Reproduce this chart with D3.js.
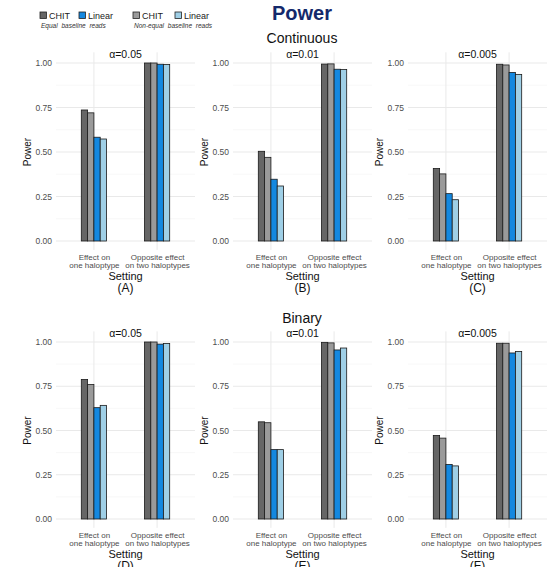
<!DOCTYPE html>
<html>
<head>
<meta charset="utf-8" />
<title>Power</title>
<script src="https://cdn.jsdelivr.net/npm/d3@7"></script>
<style>
    body { margin: 0; padding: 0; background: #fff; }
    text { font-family: "Liberation Sans", Arial, sans-serif; }
</style>
</head>
<body>
<div id="chart"></div>
<script>
    // settings on the x axis, one group of four bars each
    var settings = ["Effect on|one haloptype", "Opposite effect|on two haloptypes"];
    var seriesNames = ["CHIT equal", "CHIT non-equal", "Linear equal", "Linear non-equal"];
    var seriesColors = ["#666666", "#9a9a9a", "#1488e0", "#9fcfe6"];

    var panelTags = ["(A)", "(B)", "(C)", "(D)", "(E)", "(F)"];
    var alphaLabels = ["α=0.05", "α=0.01", "α=0.005", "α=0.05", "α=0.01", "α=0.005"];
    var rowTitles = ["Continuous", "Binary"];
    var yTicks = [0, 0.25, 0.5, 0.75, 1];

    // power per panel, [setting 1, setting 2]
    var chitEqual = [[0.736, 1.0], [0.504, 0.994], [0.407, 0.993], [0.788, 1.0], [0.549, 0.998], [0.472, 0.993]];
    var chitNonEqual = [[0.72, 1.0], [0.47, 0.995], [0.377, 0.989], [0.76, 1.0], [0.544, 0.995], [0.457, 0.993]];
    var linearEqual = [[0.583, 0.993], [0.347, 0.965], [0.266, 0.947], [0.629, 0.988], [0.392, 0.955], [0.308, 0.938]];
    var linearNonEqual = [[0.573, 0.992], [0.309, 0.963], [0.232, 0.936], [0.642, 0.992], [0.392, 0.966], [0.30, 0.946]];

    var allSeries = [chitEqual, chitNonEqual, linearEqual, linearNonEqual];

    var W = 554, H = 567;
    var colLeft = [56, 233, 408], panelW = 139;
    var rowZero = [241, 519], rowOne = [63, 342];

    var svg = d3.select("#chart").append("svg")
        .attr("width", W).attr("height", H);
    svg.append("rect").attr("width", W).attr("height", H).attr("fill", "#fff");

    // main title and legend
    svg.append("text").attr("x", 302).attr("y", 20).attr("text-anchor", "middle")
        .attr("font-size", 20).attr("font-weight", "bold").attr("fill", "#14296b").text("Power");

    var legendItems = [
        { x: 40, label: "CHIT", color: seriesColors[0] },
        { x: 79, label: "Linear", color: seriesColors[2] },
        { x: 133, label: "CHIT", color: seriesColors[1] },
        { x: 175, label: "Linear", color: seriesColors[3] }
    ];
    legendItems.forEach(function (d) {
        svg.append("rect").attr("x", d.x).attr("y", 12).attr("width", 6.5).attr("height", 6.5)
            .attr("fill", d.color).attr("stroke", "#222").attr("stroke-width", 0.8);
        svg.append("text").attr("x", d.x + 9).attr("y", 18.5).attr("font-size", 9)
            .attr("fill", "#222").text(d.label);
    });
    svg.append("text").attr("x", 41).attr("y", 28).attr("font-size", 6.5).attr("font-style", "italic")
        .attr("fill", "#333").attr("word-spacing", 2).text("Equal baseline reads");
    svg.append("text").attr("x", 134).attr("y", 28).attr("font-size", 6.5).attr("font-style", "italic")
        .attr("fill", "#333").attr("word-spacing", 2).text("Non-equal baseline reads");

    rowTitles.forEach(function (t, r) {
        svg.append("text").attr("x", 302).attr("y", rowOne[r] - 20 + (r == 0 ? 0 : 1))
            .attr("text-anchor", "middle").attr("font-size", 14).attr("fill", "#111").text(t);
    });

    d3.range(6).forEach(function (p) {
        var row = Math.floor(p / 3), col = p % 3;
        var left = colLeft[col];
        var y = d3.scaleLinear().domain([0, 1]).range([rowZero[row], rowOne[row]]);
        var x = d3.scalePoint().domain(settings).range([left, left + panelW]).padding(0.6);
        var xs = d3.scaleBand().domain(seriesNames).range([-12.6, 12.6]);
        var top = y(1.06), bottom = y(-0.05);

        var g = svg.append("g");

        // minor grid
        g.selectAll(".minor").data([0.125, 0.375, 0.625, 0.875]).enter().append("line")
            .attr("x1", left).attr("x2", left + panelW)
            .attr("y1", function (d) { return y(d); }).attr("y2", function (d) { return y(d); })
            .attr("stroke", "#f3f3f3").attr("stroke-width", 0.6);
        // major grid
        g.selectAll(".major").data(yTicks).enter().append("line")
            .attr("x1", left).attr("x2", left + panelW)
            .attr("y1", function (d) { return y(d); }).attr("y2", function (d) { return y(d); })
            .attr("stroke", "#e9e9e9").attr("stroke-width", 1);
        g.selectAll(".vgrid").data(settings).enter().append("line")
            .attr("x1", function (d) { return x(d); }).attr("x2", function (d) { return x(d); })
            .attr("y1", top).attr("y2", bottom)
            .attr("stroke", "#e9e9e9").attr("stroke-width", 1);

        // bars
        seriesNames.forEach(function (s, si) {
            g.selectAll(".bar" + si).data(settings).enter().append("rect")
                .attr("x", function (d) { return x(d) + xs(s); })
                .attr("width", xs.bandwidth())
                .attr("y", function (d, i) { return y(allSeries[si][p][i]); })
                .attr("height", function (d, i) { return y(0) - y(allSeries[si][p][i]); })
                .attr("fill", seriesColors[si])
                .attr("stroke", "#1a1a1a").attr("stroke-width", 0.8);
        });

        // y axis
        var ya = g.append("g").attr("transform", "translate(" + left + ",0)")
            .call(d3.axisLeft(y).tickValues(yTicks).tickFormat(d3.format(".2f")).tickSize(0).tickPadding(4));
        ya.select(".domain").remove();
        ya.selectAll("text").attr("font-size", 8.5).attr("fill", "#4d4d4d")
            .attr("font-family", "Liberation Sans, Arial, sans-serif");

        // x axis with two-line labels
        var xa = g.append("g").attr("transform", "translate(0," + rowZero[row] + ")")
            .call(d3.axisBottom(x).tickSize(0).tickPadding(0));
        xa.select(".domain").remove();
        xa.selectAll("text").each(function (d) {
            var t = d3.select(this).text("").attr("y", 0).attr("dy", null)
                .attr("font-size", 8).attr("fill", "#4d4d4d")
                .attr("font-family", "Liberation Sans, Arial, sans-serif");
            d.split("|").forEach(function (line, li) {
                t.append("tspan").attr("x", 0).attr("y", 18.5 + li * 8.5).text(line);
            });
        });

        var cx = left + panelW / 2;
        g.append("text").attr("x", cx).attr("y", rowZero[row] + 39).attr("text-anchor", "middle")
            .attr("font-size", 11).attr("fill", "#111").text("Setting");
        g.append("text").attr("x", cx).attr("y", rowZero[row] + 51).attr("text-anchor", "middle")
            .attr("font-size", 12).attr("fill", "#111").text(panelTags[p]);
        g.append("text").attr("transform", "translate(" + (left - 25) + "," + ((rowZero[row] + rowOne[row]) / 2) + ") rotate(-90)")
            .attr("text-anchor", "middle").attr("font-size", 10).attr("fill", "#111").text("Power");

        // alpha label over the panel
        g.append("rect").attr("x", cx - 22).attr("y", rowOne[row] - 14).attr("width", 44).attr("height", 11).attr("fill", "#fff");
        g.append("text").attr("x", cx).attr("y", rowOne[row] - 5).attr("text-anchor", "middle")
            .attr("font-size", 10.5).attr("fill", "#111").text(alphaLabels[p]);
    });
</script>
</body>
</html>
